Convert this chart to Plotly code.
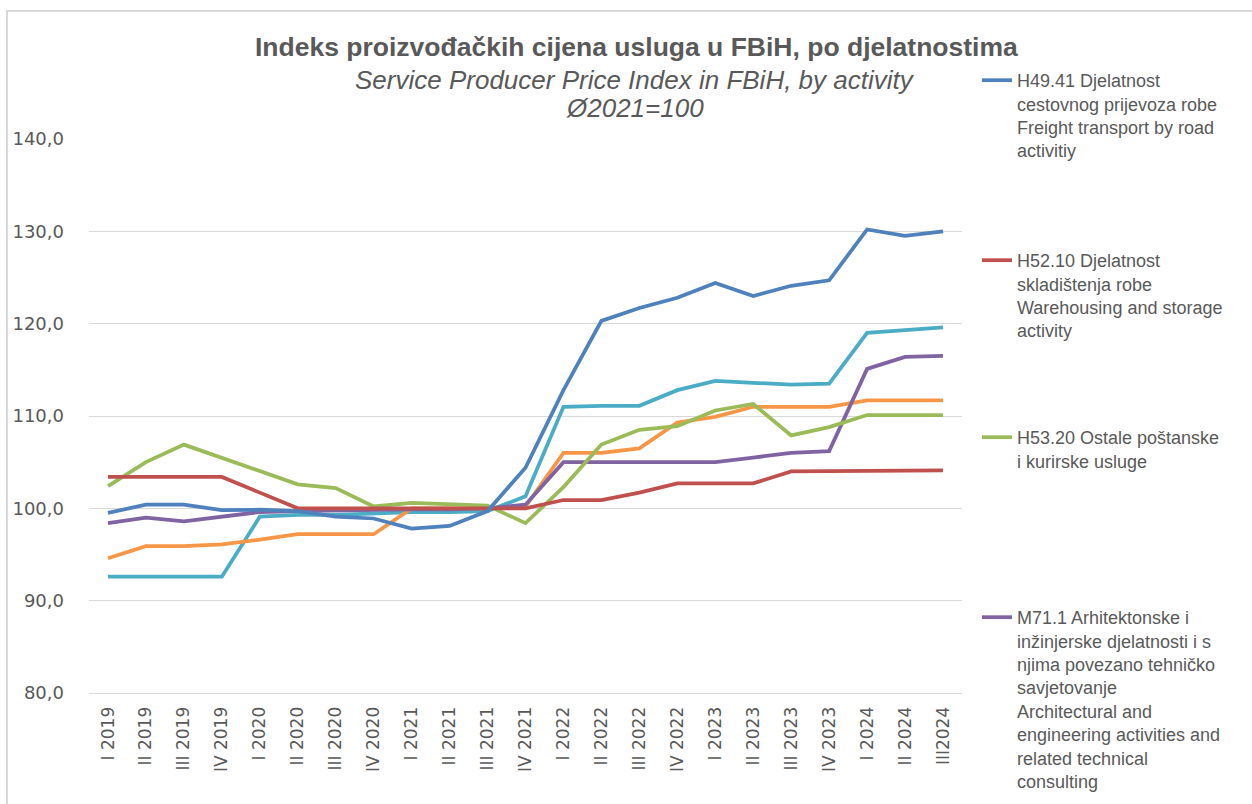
import plotly.graph_objects as go

categories = ["I 2019", "II 2019", "III 2019", "IV 2019",
              "I 2020", "II 2020", "III 2020", "IV 2020",
              "I 2021", "II 2021", "III 2021", "IV 2021",
              "I 2022", "II 2022", "III 2022", "IV 2022",
              "I 2023", "II 2023", "III 2023", "IV 2023",
              "I 2024", "II 2024", "III2024"]

h4941 = [99.5, 100.4, 100.4, 99.8, 99.85, 99.7, 99.1, 98.9, 97.8, 98.1, 99.7, 104.4,
         112.8, 120.3, 121.7, 122.8, 124.4, 123.0, 124.1, 124.7, 130.2, 129.5, 130.0]
h5210 = [103.4, 103.4, 103.4, 103.4, 101.7, 100.0, 100.0, 100.0, 100.0, 100.0, 100.0, 100.0,
         100.9, 100.9, 101.7, 102.7, 102.7, 102.7, 104.0, 104.0, 104.0, 104.0, 104.1]
h5320 = [102.4, 105.0, 106.9, 105.5, 104.0, 102.6, 102.2, 100.2, 100.6, 100.5, 100.3, 98.4,
         102.3, 106.9, 108.5, 108.9, 110.6, 111.3, 107.9, 108.8, 110.1, 110.1, 110.1]
m711 = [98.4, 99.0, 98.6, 99.1, 99.6, 99.7, 99.8, 99.8, 99.9, 99.9, 100.0, 100.4,
        105.0, 105.0, 105.0, 105.0, 105.0, 105.5, 106.0, 106.2, 115.1, 116.4, 116.5]
cyan_series = [92.6, 92.6, 92.6, 92.6, 99.1, 99.3, 99.3, 99.5, 99.6, 99.6, 99.7, 101.3,
               111.0, 111.1, 111.1, 112.8, 113.8, 113.6, 113.4, 113.5, 119.0, 119.3, 119.6]
orange_series = [94.6, 95.9, 95.9, 96.1, 96.6, 97.2, 97.2, 97.2, 100.0, 100.0, 100.0, 100.2,
                 106.0, 106.0, 106.5, 109.3, 109.9, 111.0, 111.0, 111.0, 111.7, 111.7, 111.7]

names = {
    "h4941": "H49.41 Djelatnost<br>cestovnog prijevoza robe<br>Freight transport by road<br>activitiy",
    "h5210": "H52.10 Djelatnost<br>skladištenja robe<br>Warehousing and storage<br>activity",
    "h5320": "H53.20 Ostale poštanske<br>i kurirske usluge",
    "m711": "M71.1 Arhitektonske i<br>inžinjerske djelatnosti i s<br>njima povezano tehničko<br>savjetovanje<br>Architectural and<br>engineering activities and<br>related technical<br>consulting",
}

grey = "#595959"
W, H = 1252, 804
LW = 3.75

fig = go.Figure()

fig.add_trace(go.Scatter(x=categories, y=cyan_series, mode="lines", name="cyan",
                         line=dict(color="#4bacc6", width=LW), showlegend=False))
fig.add_trace(go.Scatter(x=categories, y=orange_series, mode="lines", name="orange",
                         line=dict(color="#f79646", width=LW), showlegend=False))
fig.add_trace(go.Scatter(x=categories, y=m711, mode="lines", name=names["m711"],
                         line=dict(color="#8064a2", width=LW), legend="legend4"))
fig.add_trace(go.Scatter(x=categories, y=h5320, mode="lines", name=names["h5320"],
                         line=dict(color="#9bbb59", width=LW), legend="legend3"))
fig.add_trace(go.Scatter(x=categories, y=h5210, mode="lines", name=names["h5210"],
                         line=dict(color="#c0504d", width=LW), legend="legend2"))
fig.add_trace(go.Scatter(x=categories, y=h4941, mode="lines", name=names["h4941"],
                         line=dict(color="#4f81bd", width=LW), legend="legend"))

legend_font = dict(family="Liberation Sans, Arial, sans-serif", size=18, color=grey)


def leg(ytop_px):
    return dict(xref="container", yref="container", x=977 / W, y=1 - ytop_px / H,
                xanchor="left", yanchor="top", valign="top", font=legend_font,
                bgcolor="rgba(0,0,0,0)", borderwidth=0, tracegroupgap=0)


fig.update_layout(
    width=W, height=H,
    margin=dict(l=89, r=W - 962, t=139, b=H - 693),
    paper_bgcolor="white", plot_bgcolor="white",
    separators=",.",
    showlegend=True,
    legend=leg(62),
    legend2=leg(242),
    legend3=leg(419),
    legend4=leg(599),
    xaxis=dict(type="category", range=[-0.5, 22.5], tickangle=-90, showgrid=False,
               tickfont=dict(family="DejaVu Sans, Verdana, sans-serif", size=17, color=grey),
               ticklabelstandoff=6,
               showline=True, linecolor="#d9d9d9", linewidth=1, ticks="", zeroline=False),
    yaxis=dict(range=[80, 140], dtick=10, tickformat=".1f", showgrid=True,
               gridcolor="#d9d9d9", gridwidth=1, zeroline=False, showline=False,
               ticklabelstandoff=24,
               tickfont=dict(family="DejaVu Sans, Verdana, sans-serif", size=18, color=grey)),
    annotations=[
        dict(text="<b>Indeks proizvođačkih cijena usluga u FBiH, po djelatnostima</b>",
             xref="paper", yref="paper", x=(636 - 89) / 873, y=1 + (139 - 47) / 554,
             xanchor="center", yanchor="middle", showarrow=False,
             font=dict(family="Liberation Sans, Arial, sans-serif", size=26.5, color=grey)),
        dict(text="<i>Service Producer Price Index in FBiH, by activity</i>",
             xref="paper", yref="paper", x=(635 - 89) / 873, y=1 + (139 - 80) / 554,
             xanchor="center", yanchor="middle", showarrow=False,
             font=dict(family="Liberation Sans, Arial, sans-serif", size=26, color=grey)),
        dict(text="<i>Ø2021=100</i>",
             xref="paper", yref="paper", x=(635 - 89) / 873, y=1 + (139 - 108) / 554,
             xanchor="center", yanchor="middle", showarrow=False,
             font=dict(family="Liberation Sans, Arial, sans-serif", size=26, color=grey)),
    ],
    shapes=[
        dict(type="rect", xref="paper", yref="paper",
             x0=(7 - 89) / 873, x1=(1300 - 89) / 873,
             y0=-(900 - 693) / 554, y1=1 + (139 - 11) / 554,
             line=dict(color="#d9d9d9", width=2), fillcolor="rgba(0,0,0,0)", layer="below"),
    ],
)

fig.write_html("out.html", config={"displayModeBar": False},
               post_script="document.body.style.margin='0px';")
